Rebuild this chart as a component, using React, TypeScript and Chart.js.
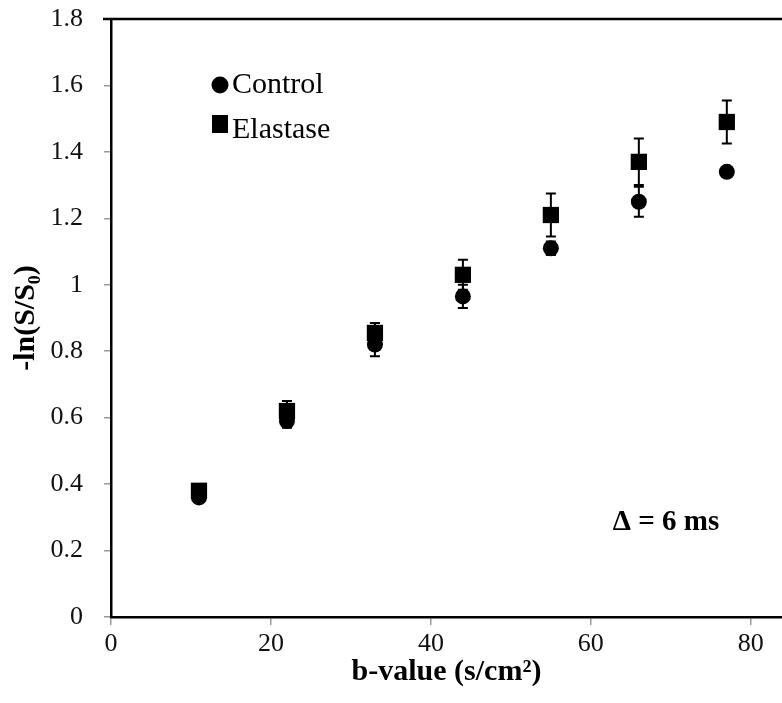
import React, { useEffect, useRef } from 'react';
import { Chart, registerables } from 'chart.js';

Chart.register(...registerables);

// ---- data ----
const bValues = [11, 22, 33, 44, 55, 66, 77];
const controlMeans = [0.36, 0.59, 0.82, 0.965, 1.11, 1.25, 1.34];
const controlErrors = [0.015, 0.02, 0.035, 0.035, 0.02, 0.045, 0.01];
const elastaseMeans = [0.38, 0.62, 0.855, 1.03, 1.21, 1.37, 1.49];
const elastaseErrors = [0.02, 0.03, 0.03, 0.045, 0.065, 0.07, 0.065];
const xTickValues = [0, 20, 40, 60, 80];
const seriesLabels = ['Control', 'Elastase'];
const annotationText = 'Δ = 6 ms';
const xTitle = 'b-value (s/cm²)';
const yTitle = '-ln(S/S₀)';

const SERIF = '"Liberation Serif", "Times New Roman", serif';

const errorBarPlugin = {
  id: 'errorBars',
  afterDatasetsDraw(chart: any) {
    const ctx = chart.ctx;
    const ys = chart.scales.y;
    chart.data.datasets.forEach((ds: any, i: number) => {
      const meta = chart.getDatasetMeta(i);
      meta.data.forEach((pt: any, j: number) => {
        const v = ds.data[j].y;
        const e = ds.errors[j];
        const top = ys.getPixelForValue(v + e);
        const bot = ys.getPixelForValue(v - e);
        ctx.save();
        ctx.strokeStyle = '#000';
        ctx.lineWidth = 2;
        ctx.beginPath();
        ctx.moveTo(pt.x, top);
        ctx.lineTo(pt.x, bot);
        ctx.moveTo(pt.x - 5, top);
        ctx.lineTo(pt.x + 5, top);
        ctx.moveTo(pt.x - 5, bot);
        ctx.lineTo(pt.x + 5, bot);
        ctx.stroke();
        ctx.restore();
      });
    });
  },
};

const framePlugin = {
  id: 'frameTop',
  afterDraw(chart: any) {
    const { ctx, chartArea } = chart;
    ctx.save();
    ctx.strokeStyle = '#000';
    ctx.lineWidth = 2.5;
    ctx.beginPath();
    ctx.moveTo(chartArea.left - 8, chartArea.top);
    ctx.lineTo(chartArea.right, chartArea.top);
    ctx.stroke();
    ctx.restore();
  },
};

const legendPlugin = {
  id: 'customLegend',
  afterDraw(chart: any) {
    const { ctx, chartArea } = chart;
    const x0 = chartArea.left + 109;
    const y0 = chartArea.top + 66;
    ctx.save();
    ctx.fillStyle = '#000';
    // Control marker
    ctx.beginPath();
    ctx.arc(x0, y0, 8.5, 0, Math.PI * 2);
    ctx.fill();
    // Elastase marker
    ctx.fillRect(x0 - 8, y0 + 39 - 9, 16, 18);
    ctx.font = `30px ${SERIF}`;
    ctx.textBaseline = 'alphabetic';
    ctx.textAlign = 'left';
    ctx.fillText(chart.data.datasets[0].label, x0 + 12, y0 + 8);
    ctx.fillText(chart.data.datasets[1].label, x0 + 12, y0 + 8 + 45);
    // annotation
    ctx.font = `bold 29px ${SERIF}`;
    ctx.textAlign = 'center';
    ctx.fillText(annotationText, chartArea.left + 555, chartArea.top + 511);
    ctx.restore();
  },
};

export default function App() {
  const ref = useRef<HTMLCanvasElement | null>(null);

  useEffect(() => {
    if (!ref.current) return;
    const chart = new Chart(ref.current, {
      type: 'scatter',
      data: {
        datasets: [
          {
            label: seriesLabels[0],
            data: bValues.map((x, i) => ({ x, y: controlMeans[i] })),
            errors: controlErrors,
            pointStyle: 'circle',
            pointRadius: 8,
            backgroundColor: '#000',
            borderColor: '#000',
            borderWidth: 0,
          } as any,
          {
            label: seriesLabels[1],
            data: bValues.map((x, i) => ({ x, y: elastaseMeans[i] })),
            errors: elastaseErrors,
            pointStyle: 'rect',
            pointRadius: 11.5,
            backgroundColor: '#000',
            borderColor: '#000',
            borderWidth: 0,
          } as any,
        ],
      },
      options: {
        responsive: false,
        animation: false,
        devicePixelRatio: 1,
        clip: false,
        layout: { autoPadding: false, padding: { left: 0, right: 0, top: 19, bottom: 0 } },
        plugins: {
          legend: { display: false },
          tooltip: { enabled: false },
        },
        scales: {
          x: {
            type: 'linear',
            min: 0,
            max: 83.9,
            afterBuildTicks: (s: any) => {
              s.ticks = xTickValues.map((v) => ({ value: v }));
            },
            afterFit: (s: any) => {
              s.height = 86;
              s.paddingLeft = 0;
              s.paddingRight = 0;
            },
            border: { color: '#000', width: 2.5 },
            grid: { display: true, drawOnChartArea: false, drawTicks: true, tickLength: 8, color: '#999', lineWidth: 1.5 },
            ticks: {
              padding: 4,
              color: '#111',
              font: { family: SERIF, size: 26 },
              callback: (v: any) => String(v),
            },
            title: {
              display: true,
              text: xTitle,
              color: '#000',
              font: { family: SERIF, size: 30, weight: 'bold' },
              padding: { top: 0, bottom: 13 },
            },
          },
          y: {
            type: 'linear',
            min: 0,
            max: 1.8,
            afterFit: (s: any) => {
              s.width = 111;
              s.paddingTop = 0;
              s.paddingBottom = 0;
            },
            border: { color: '#000', width: 2.5 },
            grid: { display: true, drawOnChartArea: false, drawTicks: true, tickLength: 7, color: '#999', lineWidth: 1.5 },
            ticks: {
              stepSize: 0.2,
              padding: 21,
              color: '#111',
              font: { family: SERIF, size: 26 },
              callback: (v: any) => String(Number(Number(v).toFixed(1))),
            },
            title: {
              display: true,
              text: yTitle,
              color: '#000',
              font: { family: SERIF, size: 30, weight: 'bold' },
              padding: { top: 8, bottom: 0 },
            },
          },
        },
      } as any,
      plugins: [errorBarPlugin, framePlugin, legendPlugin],
    });
    return () => chart.destroy();
  }, []);

  return (
    <div style={{ position: 'absolute', left: 0, top: 0, width: 782, height: 703, background: '#fff' }}>
      <canvas ref={ref} width={782} height={703} style={{ display: 'block' }} />
    </div>
  );
}
